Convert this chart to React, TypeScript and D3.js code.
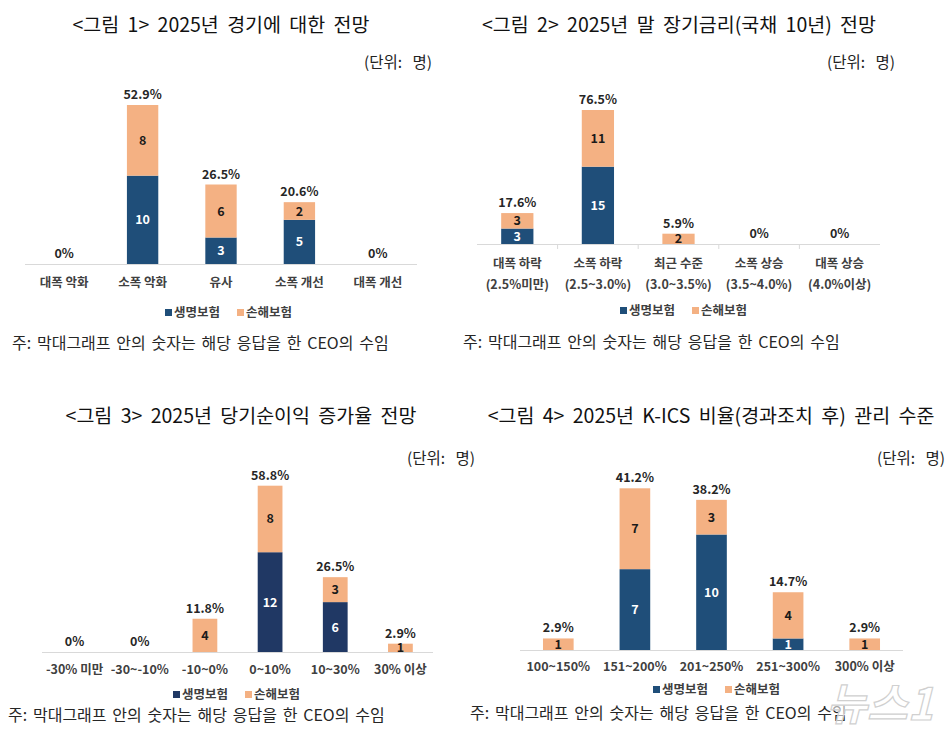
import React from "react";
import * as d3 from "d3";

// ---------- DATA ----------
const seriesNames = ["생명보험", "손해보험"];

const titles = [
  "<그림 1> 2025년 경기에 대한 전망",
  "<그림 2> 2025년 말 장기금리(국채 10년) 전망",
  "<그림 3> 2025년 당기순이익 증가율 전망",
  "<그림 4> 2025년 K-ICS 비율(경과조치 후) 관리 수준",
];

const unitLabel = "(단위: 명)";
const noteText = "주: 막대그래프 안의 숫자는 해당 응답을 한 CEO의 수임";

const cats1 = [["대폭 악화"], ["소폭 악화"], ["유사"], ["소폭 개선"], ["대폭 개선"]];
const life1 = [0, 10, 3, 5, 0];
const nonlife1 = [0, 8, 6, 2, 0];
const pct1 = ["0%", "52.9%", "26.5%", "20.6%", "0%"];

const cats2 = [
  ["대폭 하락", "(2.5%미만)"],
  ["소폭 하락", "(2.5~3.0%)"],
  ["최근 수준", "(3.0~3.5%)"],
  ["소폭 상승", "(3.5~4.0%)"],
  ["대폭 상승", "(4.0%이상)"],
];
const life2 = [3, 15, 0, 0, 0];
const nonlife2 = [3, 11, 2, 0, 0];
const pct2 = ["17.6%", "76.5%", "5.9%", "0%", "0%"];

const cats3 = [["-30% 미만"], ["-30~-10%"], ["-10~0%"], ["0~10%"], ["10~30%"], ["30% 이상"]];
const life3 = [0, 0, 0, 12, 6, 0];
const nonlife3 = [0, 0, 4, 8, 3, 1];
const pct3 = ["0%", "0%", "11.8%", "58.8%", "26.5%", "2.9%"];

const cats4 = [["100~150%"], ["151~200%"], ["201~250%"], ["251~300%"], ["300% 이상"]];
const life4 = [0, 7, 10, 1, 0];
const nonlife4 = [1, 7, 3, 4, 1];
const pct4 = ["2.9%", "41.2%", "38.2%", "14.7%", "2.9%"];

// ---------- LAYOUT ----------
const FONT = "'Noto Sans CJK KR', 'Noto Sans', sans-serif";
const ORANGE = "#F4B183";

type PanelCfg = {
  cats: string[][];
  life: number[];
  nonlife: number[];
  pct: string[];
  title: string;
  titleX: number;
  titleY: number;
  unitX: number;
  unitY: number;
  x0: number;
  x1: number;
  base: number;
  top: number;
  pad: number;
  blue: string;
  ticks: boolean;
  catY: number;
  legendX: number;
  legendY: number;
  noteX: number;
  noteY: number;
};

const panels: PanelCfg[] = [
  {
    cats: cats1, life: life1, nonlife: nonlife1, pct: pct1, title: titles[0],
    titleX: 221, titleY: 32, unitX: 432, unitY: 68,
    x0: 25, x1: 417, base: 264, top: 105, pad: 0.6, blue: "#1F4E79", ticks: false,
    catY: 287, legendX: 165, legendY: 317, noteX: 12, noteY: 349,
  },
  {
    cats: cats2, life: life2, nonlife: nonlife2, pct: pct2, title: titles[1],
    titleX: 679, titleY: 32, unitX: 895, unitY: 68,
    x0: 477, x1: 880, base: 244, top: 110, pad: 0.6, blue: "#1F4E79", ticks: true,
    catY: 268, legendX: 620, legendY: 315, noteX: 463, noteY: 348,
  },
  {
    cats: cats3, life: life3, nonlife: nonlife3, pct: pct3, title: titles[2],
    titleX: 241, titleY: 423, unitX: 475, unitY: 464,
    x0: 42, x1: 433, base: 652, top: 485.7, pad: 0.62, blue: "#203864", ticks: false,
    catY: 674, legendX: 173, legendY: 699, noteX: 8, noteY: 721,
  },
  {
    cats: cats4, life: life4, nonlife: nonlife4, pct: pct4, title: titles[3],
    titleX: 711, titleY: 423, unitX: 945, unitY: 464,
    x0: 520, x1: 903, base: 650, top: 488.3, pad: 0.6, blue: "#1F4E79", ticks: false,
    catY: 671, legendX: 653, legendY: 694, noteX: 470, noteY: 719,
  },
];

function Panel({ p }: { p: PanelCfg }) {
  const idx = p.cats.map((_, i) => i);
  const x = d3.scaleBand<number>().domain(idx).range([p.x0, p.x1]).paddingInner(p.pad).paddingOuter(p.pad / 2);
  const band = d3.scaleBand<number>().domain(idx).range([p.x0, p.x1]);
  const totals = idx.map((i) => p.life[i] + p.nonlife[i]);
  const y = d3.scaleLinear().domain([0, d3.max(totals) as number]).range([p.base, p.top]);
  const stack = d3.stack<number>().keys(["life", "nonlife"]).value((i, k) => (k === "life" ? p.life[i] : p.nonlife[i]));
  const layers = stack(idx);
  const colors = [p.blue, ORANGE];
  const textColors = ["#FFFFFF", "#1a1a1a"];

  return (
    <g>
      <text x={p.titleX} y={p.titleY} textAnchor="middle" fontFamily={FONT} fontSize={19.5} wordSpacing={4} fill="#111">
        {p.title}
      </text>
      <text x={p.unitX} y={p.unitY} textAnchor="end" fontFamily={FONT} fontSize={15.5} wordSpacing={7} fill="#222">
        {unitLabel}
      </text>
      <line x1={p.x0} x2={p.x1} y1={p.base + 0.5} y2={p.base + 0.5} stroke="#D9D9D9" strokeWidth={1} />
      {p.ticks &&
        idx.slice(1).map((i) => (
          <line key={i} x1={band(i)} x2={band(i)} y1={p.base} y2={p.base + 5} stroke="#D9D9D9" />
        ))}
      {layers.map((layer, li) =>
        layer.map((d, i) => {
          const v = d[1] - d[0];
          if (v <= 0) return null;
          const yTop = y(d[1]);
          const yBot = y(d[0]);
          return (
            <g key={`${li}-${i}`}>
              <rect x={x(i)} y={yTop} width={x.bandwidth()} height={yBot - yTop} fill={colors[li]} />
              <text
                x={(x(i) as number) + x.bandwidth() / 2}
                y={(yTop + yBot) / 2}
                dy="0.36em"
                textAnchor="middle"
                fontFamily={FONT}
                fontWeight={700}
                fontSize={12.5}
                fill={textColors[li]}
              >
                {v}
              </text>
            </g>
          );
        })
      )}
      {idx.map((i) => (
        <text
          key={`p${i}`}
          x={(x(i) as number) + x.bandwidth() / 2}
          y={y(totals[i]) - 6}
          textAnchor="middle"
          fontFamily={FONT}
          fontWeight={700}
          fontSize={12.5}
          fill="#262626"
        >
          {p.pct[i]}
        </text>
      ))}
      {idx.map((i) => (
        <text
          key={`c${i}`}
          x={(x(i) as number) + x.bandwidth() / 2}
          y={p.catY}
          textAnchor="middle"
          fontFamily={FONT}
          fontWeight={700}
          fontSize={12.5}
          fill="#404040"
        >
          {p.cats[i].map((line, li) => (
            <tspan key={li} x={(x(i) as number) + x.bandwidth() / 2} dy={li === 0 ? 0 : 21}>
              {line}
            </tspan>
          ))}
        </text>
      ))}
      <g transform={`translate(${p.legendX},${p.legendY})`}>
        <rect x={0} y={-8} width={7} height={7} fill={p.blue} />
        <text x={9} y={0} fontFamily={FONT} fontWeight={700} fontSize={12.5} fill="#404040">
          {seriesNames[0]}
        </text>
        <rect x={72} y={-8} width={7} height={7} fill={ORANGE} />
        <text x={81} y={0} fontFamily={FONT} fontWeight={700} fontSize={12.5} fill="#404040">
          {seriesNames[1]}
        </text>
      </g>
      <text x={p.noteX} y={p.noteY} fontFamily={FONT} fontSize={16} wordSpacing={2.2} fill="#262626">
        {noteText}
      </text>
    </g>
  );
}

export default function App() {
  return (
    <svg
      width={949}
      height={733}
      style={{ position: "absolute", left: 0, top: 0, background: "#fff" }}
    >
      <rect width={949} height={733} fill="#fff" />
      {panels.map((p, i) => (
        <Panel key={i} p={p} />
      ))}
      <text
        x={880}
        y={720}
        textAnchor="middle"
        fontFamily={FONT}
        fontStyle="italic"
        fontWeight={700}
        fontSize={44}
        fill="#ffffff"
        fillOpacity={0.6}
        stroke="#d0d0d0"
        strokeWidth={1.2}
      >
        뉴스1
      </text>
    </svg>
  );
}
